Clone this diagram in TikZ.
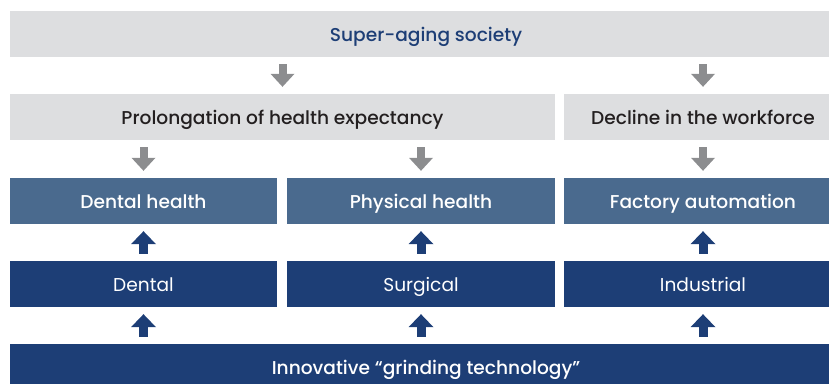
\documentclass[tikz,border=0pt]{standalone}
\usepackage{fontspec}
\setmainfont{Poppins}[BoldFont={* Medium}]
\usetikzlibrary{arrows.meta}

\definecolor{boxgray}{HTML}{DDDEE0}
\definecolor{arrowgray}{HTML}{8C8D8F}
\definecolor{steel}{HTML}{4A6A8E}
\definecolor{navy}{HTML}{1D3E76}
\definecolor{textdark}{HTML}{231F20}

\begin{document}
\begin{tikzpicture}[x=1pt, y=-1pt,
    box/.style = {rectangle, inner sep=0pt, minimum height=46pt,
                  text height=14pt, text depth=0pt,
                  font=\fontsize{18.6}{22}\selectfont},
    cause/.style = {box, fill=boxgray, text=textdark, font=\fontsize{18.6}{22}\selectfont\bfseries},
    need/.style = {box, fill=steel, text=white, font=\fontsize{18.6}{22}\selectfont\bfseries},
    field/.style = {box, fill=navy, text=white},
    down/.style = {draw=arrowgray, line width=8pt,
                   -{Triangle[width=24pt, length=13pt, line width=0pt]},
                   shorten <=7pt, shorten >=7pt},
    up/.style = {draw=navy, line width=9pt,
                 -{Triangle[width=25pt, length=13pt, line width=0pt]},
                 shorten <=7pt, shorten >=7pt}]
  \useasboundingbox (0, 0) rectangle (829, 383);
  \clip (0, 0) rectangle (829, 383);

  % Causes.
  \node at (426, 34) [cause, minimum width=832pt, text=navy, name=Society] {Super-aging society};
  \node at (282.5, 117) [cause, minimum width=545pt, name=Prolongation] {Prolongation of health expectancy};
  \node at (703, 117) [cause, minimum width=278pt, name=Workforce] {Decline in the workforce};

  % Needs.
  \node at (143.5, 201) [need, minimum width=267pt, name=DentalHealth] {Dental health};
  \node at (421, 201) [need, minimum width=268pt, name=PhysicalHealth] {Physical health};
  \node at (703, 201) [need, minimum width=278pt, name=Factory] {Factory automation};

  % Fields.
  \node at (143.5, 284) [field, minimum width=267pt, name=Dental] {Dental};
  \node at (421, 284) [field, minimum width=268pt, name=Surgical] {Surgical};
  \node at (703, 284) [field, minimum width=278pt, name=Industrial] {Industrial};

  % Technology.
  \node at (426, 367) [field, minimum width=832pt, font=\fontsize{18.6}{22}\selectfont\bfseries, name=Grinding] {Innovative “grinding technology”};

  % Society to causes.
  \draw [down] (Society.south -| Prolongation.north)
               to (Prolongation.north);
  \draw [down] (Society.south -| Workforce.north)
               to (Workforce.north);

  % Causes to needs.
  \draw [down] (Prolongation.south -| DentalHealth.north)
               to (DentalHealth.north);
  \draw [down] (Prolongation.south -| PhysicalHealth.north)
               to (PhysicalHealth.north);
  \draw [down] (Workforce.south)
               to (Factory.north);

  % Fields to needs.
  \draw [up] (Dental.north) to (DentalHealth.south);
  \draw [up] (Surgical.north) to (PhysicalHealth.south);
  \draw [up] (Industrial.north) to (Factory.south);

  % Technology to fields.
  \draw [up] (Grinding.north -| Dental.south) to (Dental.south);
  \draw [up] (Grinding.north -| Surgical.south) to (Surgical.south);
  \draw [up] (Grinding.north -| Industrial.south) to (Industrial.south);
\end{tikzpicture}
\end{document}
